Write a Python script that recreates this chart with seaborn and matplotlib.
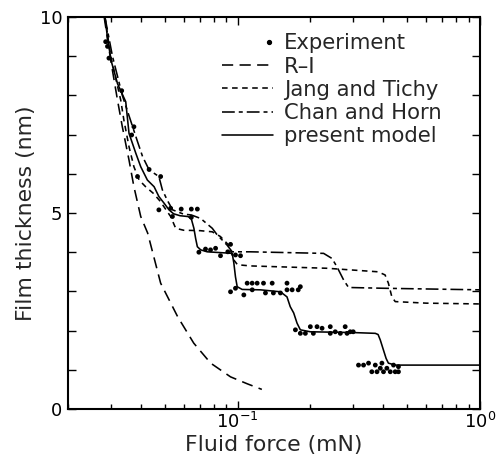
import numpy as np
import pandas as pd
import matplotlib
matplotlib.use("Agg")
import matplotlib.pyplot as plt
import seaborn as sns
from matplotlib.lines import Line2D
from matplotlib.legend_handler import HandlerLine2D
from matplotlib.ticker import MultipleLocator, FuncFormatter, LogLocator

# ---------------- data ----------------
exp_force = [0.0286, 0.0291, 0.0295, 0.0333, 0.0374, 0.0366, 0.0387, 0.0432, 0.0482,
             0.0474, 0.0530, 0.0586, 0.0645, 0.0683, 0.0539, 0.0645,
             0.0693, 0.0738, 0.0774, 0.0812, 0.0851, 0.0912, 0.0936, 0.0981, 0.1029,
             0.0936, 0.0981, 0.1062, 0.1096, 0.1149, 0.1205, 0.128, 0.139, 0.115, 0.1304,
             0.1406, 0.1503, 0.160, 0.160, 0.168, 0.178, 0.1816,
             0.1733, 0.1816, 0.1905, 0.1997, 0.2055, 0.2128, 0.2232, 0.2413, 0.2413,
             0.253, 0.2655, 0.278, 0.283, 0.2917, 0.300,
             0.3155, 0.331, 0.347, 0.358, 0.370, 0.376, 0.388, 0.394, 0.400, 0.413,
             0.4265, 0.440, 0.447, 0.461, 0.461]
exp_h = [9.37, 9.25, 8.95, 8.12, 7.20, 6.99, 5.93, 6.11, 5.93,
         5.08, 5.12, 5.10, 5.10, 5.10, 4.91, 4.89,
         4.00, 4.08, 4.06, 4.10, 3.91, 4.01, 4.20, 3.93, 3.91,
         2.99, 3.08, 2.91, 3.21, 3.21, 3.21, 3.21, 3.21, 3.04, 2.96,
         2.96, 2.96, 3.21, 3.04, 3.04, 3.04, 3.12,
         2.02, 1.93, 1.93, 2.10, 1.93, 2.10, 2.06, 2.10, 1.93,
         1.97, 1.93, 2.10, 1.93, 1.97, 1.97,
         1.12, 1.12, 1.17, 0.95, 1.12, 0.95, 1.04, 1.17, 0.95, 1.04,
         0.95, 1.12, 0.95, 1.08, 0.95]

ri_force = [0.0282, 0.0300, 0.0320, 0.0335, 0.0357, 0.0374, 0.0399, 0.0426, 0.0482,
            0.0567, 0.0660, 0.0775, 0.0936, 0.1100, 0.1260]
ri_h = [10.0, 8.90, 7.88, 7.20, 6.35, 5.67, 4.91, 4.49, 3.21,
        2.35, 1.68, 1.17, 0.82, 0.64, 0.50]

jt_force = [0.0284, 0.0300, 0.0330, 0.0340, 0.0357, 0.0374, 0.0393, 0.0418, 0.0450,
            0.0480, 0.0530, 0.0556, 0.0600, 0.0700, 0.0787, 0.0850, 0.0920, 0.0966,
            0.1000, 0.1131, 0.2340, 0.3800, 0.4060, 0.4190, 0.4330, 0.4470, 0.6000, 1.0]
jt_h = [10.0, 9.00, 7.88, 7.37, 6.69, 6.18, 5.84, 5.67, 5.50,
        5.30, 4.91, 4.61, 4.56, 4.55, 4.52, 4.40, 4.18, 3.80,
        3.68, 3.65, 3.59, 3.50, 3.42, 3.21, 2.86, 2.74, 2.70, 2.68]

ch_force = [0.0284, 0.0305, 0.0335, 0.0365, 0.0387, 0.0406, 0.0432, 0.0474, 0.0490,
            0.0513, 0.0540, 0.0600, 0.0645, 0.0705, 0.0787, 0.0825, 0.0865, 0.0906,
            0.0951, 0.1130, 0.2265, 0.2453, 0.2570, 0.2740, 0.2870, 0.4000, 1.0]
ch_h = [10.0, 9.00, 8.00, 7.30, 6.82, 6.44, 6.10, 5.93, 5.59,
        5.33, 5.08, 4.97, 4.95, 4.86, 4.61, 4.44, 4.31, 4.18,
        4.01, 4.01, 3.97, 3.84, 3.63, 3.29, 3.10, 3.08, 3.04]

pm_force = [0.0284, 0.0292, 0.0302, 0.0320, 0.0346, 0.0357, 0.0381, 0.0399, 0.0425,
            0.0453, 0.0474, 0.0498, 0.0522, 0.0545, 0.0580, 0.0625, 0.0645, 0.0661,
            0.0672, 0.0683, 0.0705, 0.0750, 0.0900, 0.0951, 0.0966, 0.0981, 0.0997,
            0.1045, 0.1243, 0.1503, 0.1600, 0.1650, 0.1705, 0.1760, 0.1816, 0.1997,
            0.3000, 0.3700, 0.3800, 0.3880, 0.4000, 0.4100, 0.4190, 0.4470, 0.6000, 1.0]
pm_h = [10.0, 9.40, 8.86, 8.30, 7.84, 7.03, 6.52, 6.18, 5.84,
        5.67, 5.42, 5.25, 5.08, 4.98, 4.93, 4.91, 4.85, 4.61,
        4.35, 4.14, 4.06, 4.01, 3.98, 3.97, 3.72, 3.37, 3.12,
        3.05, 3.04, 2.99, 2.86, 2.61, 2.45, 2.19, 2.02, 1.97,
        1.95, 1.93, 1.90, 1.76, 1.50, 1.29, 1.17, 1.12, 1.12, 1.12]

labels = ["Experiment", "R\u2013I", "Jang and Tichy", "Chan and Horn", "present model"]

# ---------------- build frames ----------------
curves = pd.concat([
    pd.DataFrame({"force": ri_force, "h": ri_h, "model": labels[1]}),
    pd.DataFrame({"force": jt_force, "h": jt_h, "model": labels[2]}),
    pd.DataFrame({"force": ch_force, "h": ch_h, "model": labels[3]}),
    pd.DataFrame({"force": pm_force, "h": pm_h, "model": labels[4]}),
], ignore_index=True)
exp_df = pd.DataFrame({"force": exp_force, "h": exp_h})

dash_ri = (7, 4)
dash_jt = (3.5, 2.8)
dash_ch = (8, 2.5, 2.5, 2.5)
dash_map = {labels[1]: dash_ri, labels[2]: dash_jt, labels[3]: dash_ch, labels[4]: ""}
pal = {k: "black" for k in labels[1:]}
LW = 1.15

sns.set_style("ticks")
plt.rcParams["font.family"] = ["DejaVu Sans"]
plt.rcParams["mathtext.fontset"] = "dejavusans"

fig = plt.figure(figsize=(4.98, 4.65), dpi=100)
ax = fig.add_axes([68 / 498, 56 / 465, 412 / 498, 392 / 465])

sns.lineplot(data=curves, x="force", y="h", hue="model", style="model",
             palette=pal, dashes=dash_map, sort=False, estimator=None,
             linewidth=LW, legend=False, ax=ax)
sns.scatterplot(data=exp_df, x="force", y="h", color="black", s=12,
                edgecolor="none", ax=ax, zorder=5)

ax.set_xscale("log")
ax.set_xlim(0.02, 1.0)
ax.set_ylim(0, 10)

ax.xaxis.set_major_locator(LogLocator(base=10))
ax.xaxis.set_minor_locator(LogLocator(base=10, subs=np.arange(2, 10)))
ax.yaxis.set_major_locator(MultipleLocator(1))
ax.yaxis.set_major_formatter(FuncFormatter(
    lambda v, p: f"{int(round(v))}" if int(round(v)) in (0, 5, 10) else ""))

ax.tick_params(which="both", direction="in", top=True, right=True,
               width=1.0, colors="black", labelsize=13)
ax.tick_params(which="major", length=6)
ax.tick_params(which="minor", length=3.5)
ax.tick_params(axis="x", which="major", pad=2)
ax.tick_params(axis="y", which="major", pad=4)
for s in ax.spines.values():
    s.set_linewidth(1.5)
    s.set_color("black")

ax.set_xlabel("Fluid force (mN)", fontsize=15.8, labelpad=2)
ax.set_ylabel("Film thickness (nm)", fontsize=15.8, labelpad=3)


class RightDot(HandlerLine2D):
    def get_xdata(self, legend, xdescent, ydescent, width, height, fontsize):
        x = np.array([-xdescent + 0.92 * width])
        return x, x


handles = [
    Line2D([], [], ls="none", marker="o", ms=2.8, color="black"),
    Line2D([], [], color="black", lw=LW, dashes=dash_ri),
    Line2D([], [], color="black", lw=LW, dashes=dash_jt),
    Line2D([], [], color="black", lw=LW, dashes=dash_ch),
    Line2D([], [], color="black", lw=LW),
]
ax.legend(handles, labels, loc="upper left", bbox_to_anchor=(0.374, 0.958),
          frameon=False, fontsize=15.2, labelspacing=0.15, handlelength=2.4,
          handletextpad=0.55, borderpad=0, borderaxespad=0,
          handler_map={handles[0]: RightDot()})

fig.savefig("out.png", dpi=100)
